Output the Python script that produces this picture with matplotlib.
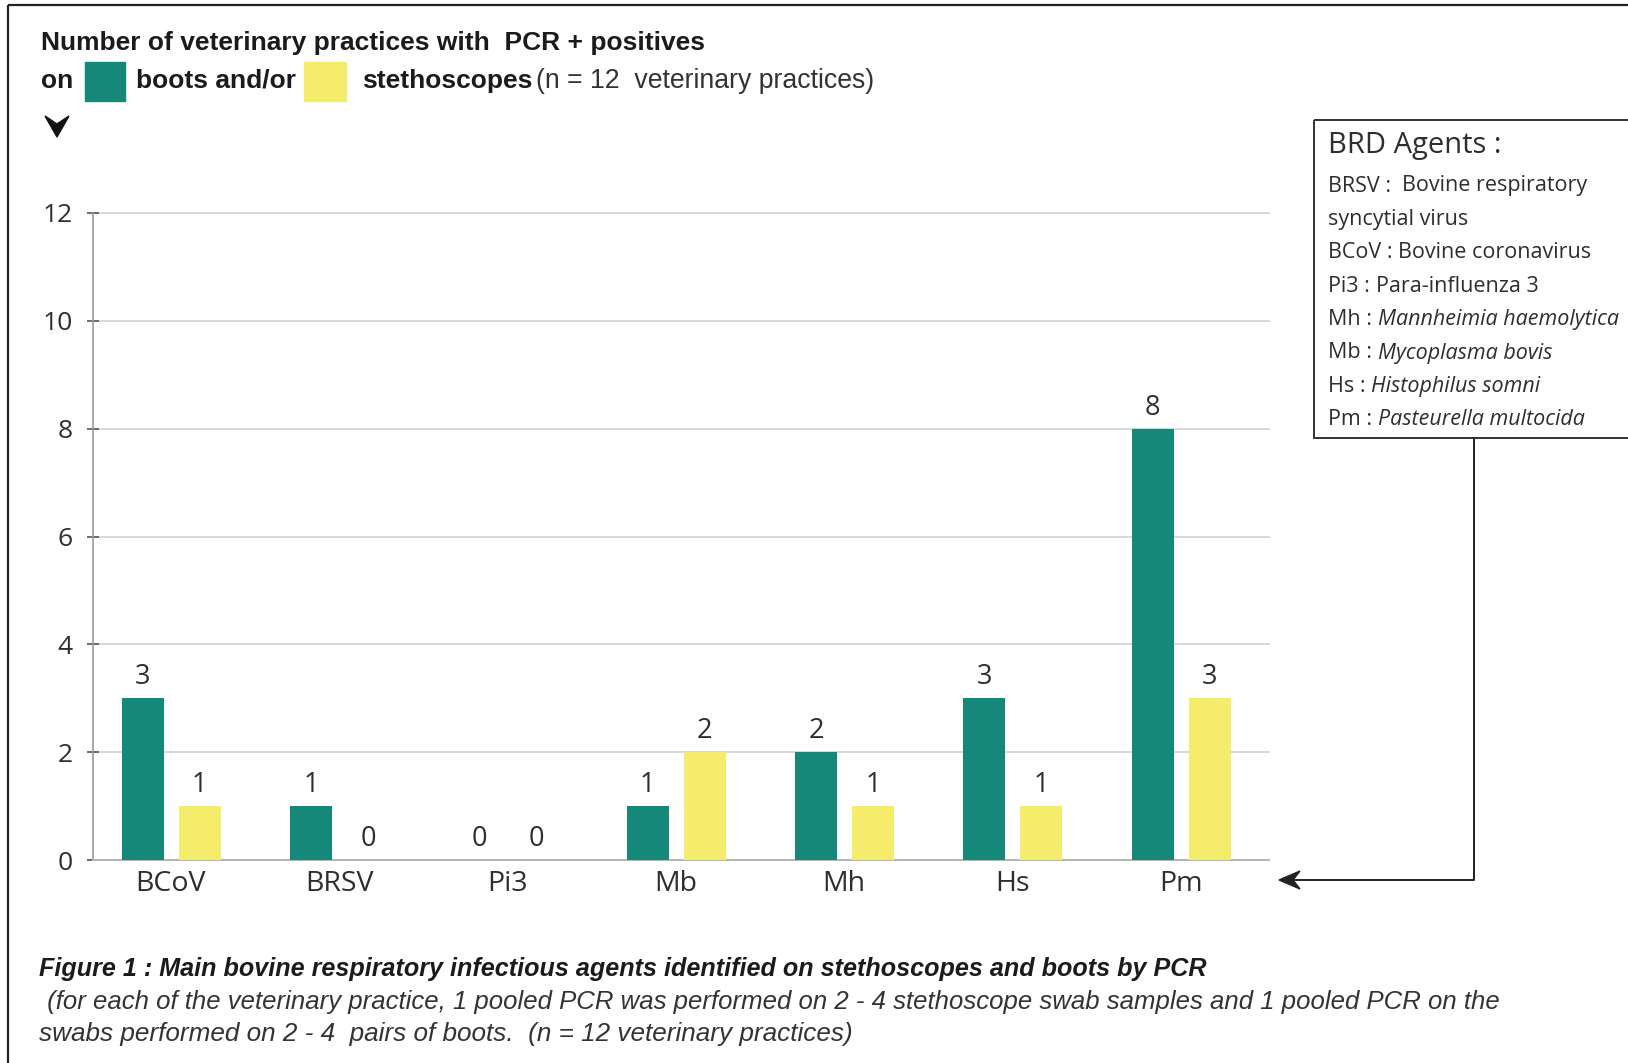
import matplotlib
matplotlib.use('Agg')
import matplotlib.pyplot as plt
from matplotlib import font_manager
from matplotlib.patches import Rectangle, Polygon
from matplotlib.lines import Line2D
from matplotlib.transforms import Affine2D
from matplotlib.text import Annotation
import numpy as np

# data
agents = ['BCoV', 'BRSV', 'Pi3', 'Mb', 'Mh', 'Hs', 'Pm']
boots = [3, 1, 0, 1, 2, 3, 8]
stethoscopes = [1, 0, 0, 2, 1, 1, 3]
yticks = [0, 2, 4, 6, 8, 10, 12]

legend_title = 'BRD Agents :'
legend_abbr = ['BRSV :  ', '', 'BCoV : ', 'Pi3 : ', 'Mh : ', 'Mb : ', 'Hs : ', 'Pm : ']
legend_names = ['Bovine respiratory', 'syncytial virus', 'Bovine coronavirus', 'Para-influenza 3',
                'Mannheimia haemolytica', 'Mycoplasma bovis', 'Histophilus somni', 'Pasteurella multocida']
legend_italic = [False, False, False, False, True, True, True, True]

GREEN = '#15887a'
YELLOW = '#f4ec6a'
TXT = '#2e2e2e'

names = {f.name for f in font_manager.fontManager.ttflist}
narrow = 'Liberation Sans Narrow' if 'Liberation Sans Narrow' in names else 'Liberation Sans'
sans = 'Open Sans'

W, H = 1628, 1063
fig = plt.figure(figsize=(W / 100, H / 100), dpi=100)
# pixel coords, origin top-left
px = Affine2D().scale(1.0 / W, -1.0 / H).translate(0, 1) + fig.transFigure

ax = fig.add_axes([93 / W, 1 - 860 / H, (1269 - 93) / W, (860 - 213) / H])
x = np.arange(len(agents))
w = 0.25
b1 = ax.bar(x - 0.168, boots, w, color=GREEN, zorder=3)
b2 = ax.bar(x + 0.171, stethoscopes, w, color=YELLOW, zorder=3)
for bars, vals in ((b1, boots), (b2, stethoscopes)):
    for r, v in zip(bars, vals):
        ax.annotate(str(v), (r.get_x() + r.get_width() / 2, v), xytext=(0, 5),
                    textcoords='offset points', ha='center', va='bottom',
                    fontsize=19.5, family=sans, color=TXT)

ax.set_xlim(-0.463, 6.523)
ax.set_ylim(0, 12)
ax.set_yticks(yticks)
ax.set_xticks(x)
ax.set_xticklabels(agents, fontsize=20.5, family=sans, color=TXT)
ax.tick_params(axis='x', length=0, pad=7)
ax.tick_params(axis='y', direction='inout', length=9, width=1.2, color='#555555',
               labelsize=19, labelcolor=TXT, pad=10)
for lab in ax.get_yticklabels():
    lab.set_family(sans)
ax.yaxis.grid(True, color='#d6d6d6', linewidth=1.3, zorder=0)
for gl in ax.yaxis.get_gridlines():
    gl.set_clip_on(False)
ax.set_axisbelow(True)
for s in ('top', 'right'):
    ax.spines[s].set_visible(False)
ax.spines['left'].set_color('#9a9a9a')
ax.spines['bottom'].set_color('#b5b5b5')
ax.spines['left'].set_linewidth(1.2)
ax.spines['bottom'].set_linewidth(1.4)

# outer frame
fig.add_artist(Rectangle((8, 5), 1700, 1200, transform=px, fill=False, ec='#222222', lw=1.6))

# heading
fig.text(41, 43, 'Number of veterinary practices with  PCR + positives', transform=px,
         family=narrow, weight='bold', fontsize=19, color='#1b1b1b', va='center')
fig.text(41, 81, 'on', transform=px, family=narrow, weight='bold', fontsize=19,
         color='#1b1b1b', va='center')
fig.add_artist(Rectangle((85, 62), 40, 39, transform=px, color=GREEN))
fig.text(136, 81, 'boots and/or', transform=px, family=narrow, weight='bold', fontsize=19,
         color='#1b1b1b', va='center')
fig.add_artist(Rectangle((304, 62), 42, 39, transform=px, color=YELLOW))
fig.text(362, 81, 'stethoscopes', transform=px, family=narrow, weight='bold', fontsize=19,
         color='#1b1b1b', va='center')
fig.text(536, 81, '(n = 12  veterinary practices)', transform=px, family=narrow, fontsize=19.2,
         color='#333333', va='center')
fig.add_artist(Polygon([(45, 116), (57, 124), (69, 116), (57, 137)], closed=True,
                       transform=px, color='#111111'))

# agents box
fig.add_artist(Rectangle((1314, 120), 400, 318, transform=px, fill=False, ec='#333333', lw=1.4))
fig.text(1328, 146, legend_title, transform=px, family=sans, fontsize=21, color=TXT, va='center')
for i, (ab, nm, it) in enumerate(zip(legend_abbr, legend_names, legend_italic)):
    y = 186 + i * 33.4
    if not ab:
        fig.text(1328, y, nm, transform=px, family=sans, fontsize=15.5, color=TXT, va='center')
        continue
    t = fig.text(1328, y, ab, transform=px, family=sans, fontsize=15.5, color=TXT, va='center')
    ann = Annotation(nm, xy=(1, 0), xycoords=t, va='bottom', ha='left',
                     family=sans, fontsize=15.5, color=TXT,
                     style='italic' if it else 'normal')
    fig.add_artist(ann)

# connector from box to the x axis
fig.add_artist(Line2D([1474, 1474, 1295], [438, 880, 880], transform=px, color='#222222', lw=1.4))
fig.add_artist(Polygon([(1279, 880), (1300, 871), (1293, 880), (1300, 889)], closed=True,
                       transform=px, color='#222222'))

# caption
fig.text(39, 969, 'Figure 1 : Main bovine respiratory infectious agents identified on stethoscopes and boots by PCR',
         transform=px, family=narrow, weight='bold', style='italic', fontsize=18.1,
         color='#1b1b1b', va='center')
fig.text(40, 1002, ' (for each of the veterinary practice, 1 pooled PCR was performed on 2 - 4 stethoscope swab samples and 1 pooled PCR on the',
         transform=px, family=narrow, style='italic', fontsize=18.55, color='#333333', va='center')
fig.text(39, 1034, 'swabs performed on 2 - 4  pairs of boots.  (n = 12 veterinary practices)',
         transform=px, family=narrow, style='italic', fontsize=18.8, color='#333333', va='center')

fig.savefig('out.png', dpi=100)
